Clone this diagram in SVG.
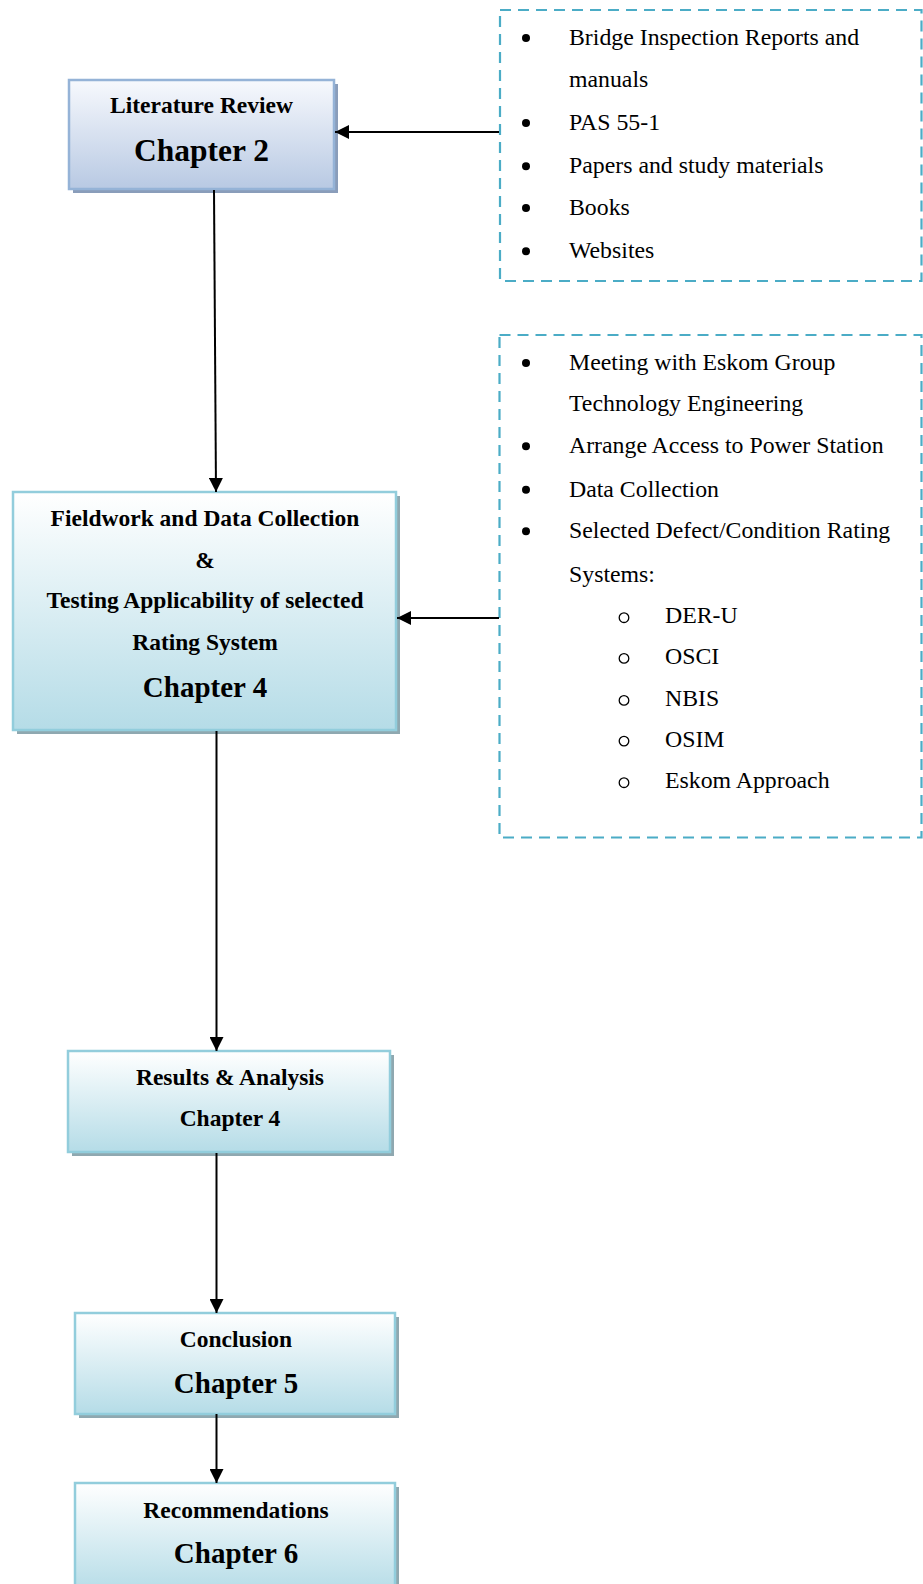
<svg xmlns="http://www.w3.org/2000/svg" width="923" height="1584" viewBox="0 0 923 1584">
  <defs>
    <linearGradient id="gBlue" x1="0" y1="0" x2="0" y2="1">
      <stop offset="0" stop-color="#f7f9fd"/>
      <stop offset="1" stop-color="#b8c9e3"/>
    </linearGradient>
    <linearGradient id="gTeal" x1="0" y1="0" x2="0" y2="1">
      <stop offset="0" stop-color="#ffffff"/>
      <stop offset="1" stop-color="#b5dce7"/>
    </linearGradient>
    <marker id="arrow" viewBox="0 0 14 14" refX="14" refY="7" markerWidth="14" markerHeight="14" markerUnits="userSpaceOnUse" orient="auto">
      <path d="M0,0 L14,7 L0,14 Z" fill="#000"/>
    </marker>
  </defs>
  <style>
    .shadowBlue { fill: #8a9dba; }
    .shadowTeal { fill: #8fa8b0; }
    .boxBlue { fill: url(#gBlue); stroke: #95b3d7; stroke-width: 2.5; }
    .boxTeal { fill: url(#gTeal); stroke: #92cddc; stroke-width: 2.5; }
    .title { font-family: "Liberation Serif", "Times New Roman", serif; font-weight: bold; font-size: 23.5px; fill: #000; text-anchor: middle; }
    .chapter { font-family: "Liberation Serif", "Times New Roman", serif; font-weight: bold; font-size: 29px; fill: #000; text-anchor: middle; }
    .list { font-family: "Liberation Serif", "Times New Roman", serif; font-size: 23.8px; fill: #000; }
    .dash { fill: none; stroke: #4bacc6; stroke-width: 2.2; stroke-dasharray: 11 7; }
    .conn { fill: none; stroke: #000; stroke-width: 2; marker-end: url(#arrow); }
    .dot { fill: #000; }
    .ring { fill: none; stroke: #000; stroke-width: 1.3; }
  </style>

  <!-- Literature review -->
  <g id="lit-review">
    <rect class="shadowBlue" x="73" y="84" width="265" height="109"/>
    <rect class="boxBlue" x="69" y="80" width="265" height="109"/>
    <text class="title" x="201.5" y="112.5">Literature Review</text>
    <text class="chapter" x="201.5" y="161" style="font-size:31.5px">Chapter 2</text>
  </g>

  <!-- Fieldwork and testing -->
  <g id="fieldwork">
    <rect class="shadowTeal" x="17" y="496" width="383" height="238"/>
    <rect class="boxTeal" x="13" y="492" width="383" height="238"/>
    <text class="title" x="205" y="525.5">Fieldwork and Data Collection</text>
    <text class="title" x="205" y="567.5">&amp;</text>
    <text class="title" x="205" y="608">Testing Applicability of selected</text>
    <text class="title" x="205" y="650">Rating System</text>
    <text class="chapter" x="205" y="696.5">Chapter 4</text>
  </g>

  <!-- Results and analysis -->
  <g id="results">
    <rect class="shadowTeal" x="72" y="1055" width="322" height="101"/>
    <rect class="boxTeal" x="68" y="1051" width="322" height="101"/>
    <text class="title" x="230" y="1085">Results &amp; Analysis</text>
    <text class="title" x="230" y="1126">Chapter 4</text>
  </g>

  <!-- Conclusion -->
  <g id="conclusion">
    <rect class="shadowTeal" x="79" y="1317" width="320" height="101"/>
    <rect class="boxTeal" x="75" y="1313" width="320" height="101"/>
    <text class="title" x="236" y="1347">Conclusion</text>
    <text class="chapter" x="236" y="1392.5">Chapter 5</text>
  </g>

  <!-- Recommendations -->
  <g id="recommendations">
    <rect class="shadowTeal" x="79" y="1487" width="320" height="110"/>
    <rect class="boxTeal" x="75" y="1483" width="320" height="110"/>
    <text class="title" x="236" y="1518">Recommendations</text>
    <text class="chapter" x="236" y="1562.5">Chapter 6</text>
  </g>

  <!-- Sources for the literature review -->
  <g id="sources">
    <rect class="dash" x="500" y="10" width="421.5" height="271"/>
    <circle class="dot" cx="526" cy="38" r="4"/>
    <text class="list" x="569" y="45">Bridge Inspection Reports and</text>
    <text class="list" x="569" y="87.3">manuals</text>
    <circle class="dot" cx="526" cy="123" r="4"/>
    <text class="list" x="569" y="130">PAS 55-1</text>
    <circle class="dot" cx="526" cy="166.3" r="4"/>
    <text class="list" x="569" y="173.3">Papers and study materials</text>
    <circle class="dot" cx="526" cy="208" r="4"/>
    <text class="list" x="569" y="215">Books</text>
    <circle class="dot" cx="526" cy="251.3" r="4"/>
    <text class="list" x="569" y="258.3">Websites</text>
  </g>

  <!-- Fieldwork activities -->
  <g id="activities">
    <rect class="dash" x="499.5" y="335" width="422" height="502.5"/>
    <circle class="dot" cx="526" cy="363" r="4"/>
    <text class="list" x="569" y="370">Meeting with Eskom Group</text>
    <text class="list" x="569" y="410.5">Technology Engineering</text>
    <circle class="dot" cx="526" cy="446.3" r="4"/>
    <text class="list" x="569" y="453.3">Arrange Access to Power Station</text>
    <circle class="dot" cx="526" cy="489.7" r="4"/>
    <text class="list" x="569" y="496.7">Data Collection</text>
    <circle class="dot" cx="526" cy="531.3" r="4"/>
    <text class="list" x="569" y="538.3">Selected Defect/Condition Rating</text>
    <text class="list" x="569" y="581.7">Systems:</text>
    <circle class="ring" cx="624" cy="617.7" r="4.8"/>
    <text class="list" x="665" y="623.3">DER-U</text>
    <circle class="ring" cx="624" cy="658.4" r="4.8"/>
    <text class="list" x="665" y="664">OSCI</text>
    <circle class="ring" cx="624" cy="700.4" r="4.8"/>
    <text class="list" x="665" y="706">NBIS</text>
    <circle class="ring" cx="624" cy="741.1" r="4.8"/>
    <text class="list" x="665" y="746.7">OSIM</text>
    <circle class="ring" cx="624" cy="782.7" r="4.8"/>
    <text class="list" x="665" y="788.3">Eskom Approach</text>
  </g>

  <!-- Connectors -->
  <g id="connectors">
    <line class="conn" x1="214" y1="190" x2="216" y2="492"/>
    <line class="conn" x1="216.5" y1="731" x2="216.5" y2="1051"/>
    <line class="conn" x1="216.5" y1="1153" x2="216.5" y2="1313"/>
    <line class="conn" x1="216.5" y1="1414" x2="216.5" y2="1483"/>
    <line class="conn" x1="499" y1="132" x2="335" y2="132"/>
    <line class="conn" x1="499" y1="618" x2="397" y2="618"/>
  </g>
</svg>
